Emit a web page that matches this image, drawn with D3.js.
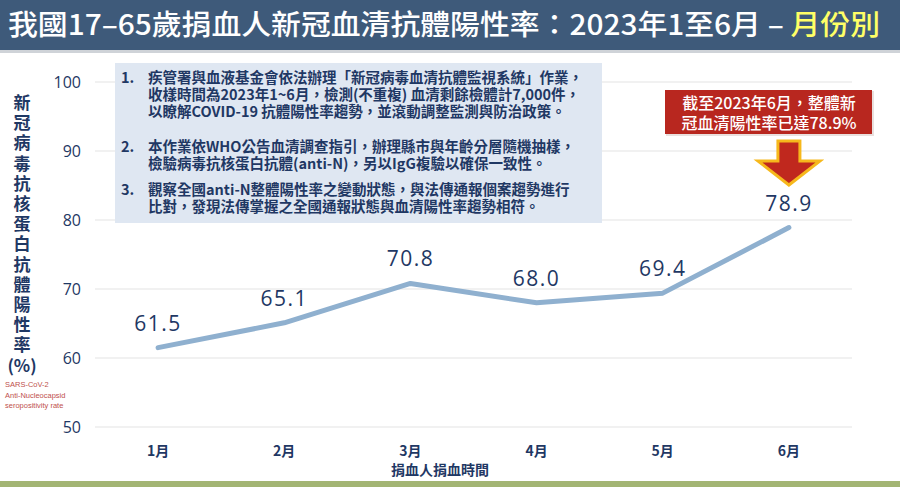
<!DOCTYPE html>
<html lang="zh-TW">
<head>
<meta charset="utf-8">
<script src="https://cdn.jsdelivr.net/npm/d3@7"></script>
<style>
  html, body { margin: 0; padding: 0; background: #fff; }
  svg { display: block; font-family: "Noto Sans CJK TC", "Noto Sans", sans-serif; }
</style>
</head>
<body>
<svg id="chart" width="900" height="487"></svg>
<script>
// -------- data --------
const months = ["1月", "2月", "3月", "4月", "5月", "6月"];
const rates = [61.5, 65.1, 70.8, 68.0, 69.4, 78.9];
const yTicks = [50, 60, 70, 80, 90, 100];

const titleMain = "我國17–65歲捐血人新冠血清抗體陽性率：2023年1至6月 – ";
const titleTail = "月份別";
const yTitle = "新冠病毒抗核蛋白抗體陽性率";
const yUnit = "(%)";
const yNote = ["SARS-CoV-2", "Anti-Nucleocapsid", "seropositivity rate"];
const xTitle = "捐血人捐血時間";
const notes = [
  ["疾管署與血液基金會依法辦理「新冠病毒血清抗體監視系統」作業，",
   "收樣時間為2023年1~6月，檢測(不重複) 血清剩餘檢體計7,000件，",
   "以瞭解COVID-19 抗體陽性率趨勢，並滾動調整監測與防治政策。"],
  ["本作業依WHO公告血清調查指引，辦理縣市與年齡分層隨機抽樣，",
   "檢驗病毒抗核蛋白抗體(anti-N)，另以IgG複驗以確保一致性。"],
  ["觀察全國anti-N整體陽性率之變動狀態，與法傳通報個案趨勢進行",
   "比對，發現法傳掌握之全國通報狀態與血清陽性率趨勢相符。"]
];
const callout = ["截至2023年6月，整體新", "冠血清陽性率已達78.9%"];

// -------- layout --------
const W = 900, H = 487;
const navy = "#1f3864";
const svg = d3.select("#chart");

// title bar
svg.append("rect").attr("x", 0).attr("y", 0).attr("width", W).attr("height", 50).attr("fill", "#3e5a7a");
svg.append("rect").attr("x", 0).attr("y", 50).attr("width", W).attr("height", 3).attr("fill", "#cfd3d8");
const title = svg.append("text")
  .attr("x", 8).attr("y", 35)
  .attr("font-size", 28).attr("font-weight", 500)
  .attr("textLength", 872).attr("lengthAdjust", "spacingAndGlyphs")
  .attr("fill", "#fff");
title.append("tspan").text(titleMain);
title.append("tspan").attr("fill", "#ffff66").text(titleTail);

// bottom strip
svg.append("rect").attr("x", 0).attr("y", 481).attr("width", W).attr("height", 6).attr("fill", "#a3b574");

// scales
const x = d3.scaleBand().domain(months).range([95, 852]);
const y = d3.scaleLinear().domain([50, 100]).range([427, 82]);

// gridlines
svg.append("g")
  .selectAll("line")
  .data(yTicks)
  .join("line")
  .attr("x1", 95).attr("x2", 852)
  .attr("y1", d => y(d)).attr("y2", d => y(d))
  .attr("stroke", "#e4e4e4").attr("stroke-width", 1.2);

// y tick labels
svg.append("g")
  .selectAll("text")
  .data(yTicks)
  .join("text")
  .attr("x", 81).attr("y", d => y(d) + 6)
  .attr("text-anchor", "end")
  .attr("font-family", "'Open Sans', 'Noto Sans', sans-serif")
  .attr("font-size", 16)
  .attr("fill", navy)
  .text(d => d);

// x tick labels
svg.append("g")
  .selectAll("text")
  .data(months)
  .join("text")
  .attr("x", d => x(d) + x.bandwidth() / 2)
  .attr("y", 456)
  .attr("text-anchor", "middle")
  .attr("font-size", 14).attr("font-weight", 700)
  .attr("fill", navy)
  .text(d => d);

svg.append("text")
  .attr("x", 440).attr("y", 475)
  .attr("text-anchor", "middle")
  .attr("font-size", 14).attr("font-weight", 700)
  .attr("fill", navy)
  .text(xTitle);

// y axis title (vertical)
svg.append("text")
  .attr("x", 22).attr("y", 94)
  .attr("writing-mode", "vertical-rl")
  .attr("letter-spacing", 3.2)
  .attr("font-size", 17).attr("font-weight", 700)
  .attr("fill", navy)
  .text(yTitle);
svg.append("text")
  .attr("x", 22).attr("y", 372)
  .attr("text-anchor", "middle")
  .attr("font-size", 17).attr("font-weight", 700)
  .attr("fill", navy)
  .text(yUnit);

svg.append("g")
  .selectAll("text")
  .data(yNote)
  .join("text")
  .attr("x", 5)
  .attr("y", (d, i) => 387 + i * 10.5)
  .attr("font-family", "'Liberation Sans', 'DejaVu Sans', sans-serif")
  .attr("font-size", 7.5)
  .attr("fill", "#c0504d")
  .text(d => d);

// note box
svg.append("rect")
  .attr("x", 115).attr("y", 63).attr("width", 487).attr("height", 160)
  .attr("fill", "#dfe7f2");
const noteG = svg.append("g").attr("fill", navy).attr("font-size", 14.5).attr("font-weight", 700);
const itemTop = [83, 152, 195];
notes.forEach((lines, i) => {
  noteG.append("text").attr("x", 121).attr("y", itemTop[i]).text(`${i + 1}.`);
  const t = noteG.append("text").attr("x", 148).attr("y", itemTop[i]);
  lines.forEach((ln, j) => {
    t.append("tspan")
      .attr("x", 148)
      .attr("dy", j === 0 ? 0 : 17.2)
      .text(ln);
  });
});

// line
const line = d3.line()
  .x((d, i) => x(months[i]) + x.bandwidth() / 2)
  .y(d => y(d));

svg.append("path")
  .datum(rates)
  .attr("d", line)
  .attr("fill", "none")
  .attr("stroke", "#8fb0cf")
  .attr("stroke-width", 5)
  .attr("stroke-linecap", "round")
  .attr("stroke-linejoin", "round");

// value labels
svg.append("g")
  .selectAll("text")
  .data(rates)
  .join("text")
  .attr("x", (d, i) => x(months[i]) + x.bandwidth() / 2)
  .attr("y", d => y(d) - 17)
  .attr("text-anchor", "middle")
  .attr("font-family", "'Open Sans', 'Noto Sans', sans-serif")
  .attr("font-size", 21)
  .attr("letter-spacing", 1.5)
  .attr("fill", navy)
  .text(d => d.toFixed(1));

// callout box + arrow
const cx = x(months[5]) + x.bandwidth() / 2;
svg.append("rect")
  .attr("x", 666).attr("y", 91).attr("width", 208).attr("height", 45)
  .attr("fill", "#e9e0de");
svg.append("rect")
  .attr("x", 665).attr("y", 90).attr("width", 207).attr("height", 44)
  .attr("fill", "#b8271f");
svg.append("g")
  .selectAll("text")
  .data(callout)
  .join("text")
  .attr("x", 769).attr("y", (d, i) => 109 + i * 20)
  .attr("text-anchor", "middle")
  .attr("font-size", 16).attr("font-weight", 500)
  .attr("fill", "#fff")
  .text(d => d);

const arrow = d3.path();
arrow.moveTo(cx - 11, 141);
arrow.lineTo(cx + 11, 141);
arrow.lineTo(cx + 11, 161);
arrow.lineTo(cx + 31, 161);
arrow.lineTo(cx, 185);
arrow.lineTo(cx - 31, 161);
arrow.lineTo(cx - 11, 161);
arrow.closePath();
svg.append("path")
  .attr("d", arrow.toString())
  .attr("fill", "#c0281e")
  .attr("stroke", "#f6b81c")
  .attr("stroke-width", 3)
  .attr("stroke-linejoin", "miter");
</script>
</body>
</html>
